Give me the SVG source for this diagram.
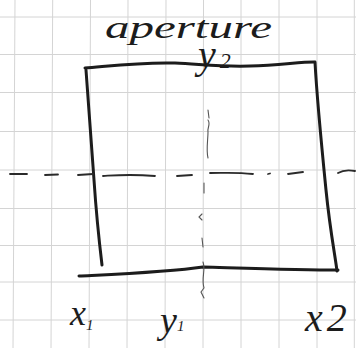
<svg xmlns="http://www.w3.org/2000/svg" width="356" height="348" viewBox="0 0 356 348">
  <style>
    .grid line { stroke: #d4d4d4; stroke-width: 1; }
    .ink { fill: none; stroke: #1c1c1c; stroke-width: 3; stroke-linecap: round; stroke-linejoin: round; }
    .dash { fill: none; stroke: #2a2a2a; stroke-width: 1.8; stroke-linecap: round; }
    .faint { fill: none; stroke: #555; stroke-width: 1.1; stroke-linecap: round; }
    .hand { font-family: "Liberation Serif", "DejaVu Serif", serif; font-style: italic; fill: #1c1c1c; }
  </style>
  <rect width="356" height="348" fill="#ffffff"/>
  <g id="grid" class="grid">
    <line x1="15" y1="0" x2="13" y2="348"/>
    <line x1="52.7" y1="0" x2="51" y2="348"/>
    <line x1="90.5" y1="0" x2="89" y2="348"/>
    <line x1="128" y1="0" x2="127" y2="348"/>
    <line x1="166" y1="0" x2="165" y2="348"/>
    <line x1="203.5" y1="0" x2="203" y2="348"/>
    <line x1="241" y1="0" x2="241" y2="348"/>
    <line x1="279" y1="0" x2="279" y2="348"/>
    <line x1="317" y1="0" x2="317" y2="348"/>
    <line x1="354.3" y1="0" x2="354.3" y2="348"/>
    <line x1="0" y1="17" x2="356" y2="17"/>
    <line x1="0" y1="54.5" x2="356" y2="54.5"/>
    <line x1="0" y1="92.5" x2="356" y2="92.5"/>
    <line x1="0" y1="131.5" x2="356" y2="131.5"/>
    <line x1="0" y1="170" x2="356" y2="170"/>
    <line x1="0" y1="208.5" x2="356" y2="208.5"/>
    <line x1="0" y1="245.5" x2="356" y2="245.5"/>
    <line x1="0" y1="282" x2="356" y2="282"/>
    <line x1="0" y1="320" x2="356" y2="320"/>
  </g>
  <g id="aperture-frame">
    <path class="ink" d="M85,68 C110,66 140,62 175,63 C200,64 220,67 250,66 C280,65 300,62 314,62"/>
    <path class="ink" d="M86,70 C88,100 92,150 94,180 C96,210 99,240 102,265"/>
    <path class="ink" d="M315,62 C317,100 322,150 326,190 C330,230 335,255 337,271"/>
    <path class="ink" d="M79,276 C120,274 170,272 203,267 C240,268 300,270 338,270"/>
  </g>
  <g id="connectors">
    <g id="x-axis" class="dash">
      <path d="M10,174 L27,174"/>
      <path d="M45,175 L58,174.5"/>
      <path d="M78,175 L93,174"/>
      <path d="M103,176 C120,175 130,174 155,176"/>
      <path d="M177,176 L192,175"/>
      <path d="M210,173 C225,173 235,172 253,174"/>
      <path d="M268,174 L270,173.5"/>
      <path d="M288,174 L303,172"/>
      <path d="M338,173 C343,170 350,170 355,171"/>
    </g>
    <g id="y-axis" class="faint">
      <path d="M208,110 L209,118"/>
      <path d="M208,120 C211,124 207,128 208,132 C208,140 206,150 208,158"/>
      <path d="M204,183 L204,193"/>
      <path d="M202,214 L199,217 L202,220"/>
      <path d="M202,238 L203,247"/>
      <path d="M203,262 C206,270 201,278 204,288 L201,292 L204,298"/>
    </g>
  </g>
  <g id="labels" class="hand">
    <text x="105" y="38" font-size="32" textLength="167" lengthAdjust="spacingAndGlyphs">aperture</text>
    <text x="198" y="68" font-size="40">y<tspan font-size="22" dx="4">2</tspan></text>
    <text x="70" y="325" font-size="36">x<tspan font-size="15" dy="5">1</tspan></text>
    <text x="160" y="333" font-size="38">y<tspan font-size="15" dy="-2">1</tspan></text>
    <text x="305" y="331" font-size="40" letter-spacing="4">x2</text>
  </g>
</svg>
